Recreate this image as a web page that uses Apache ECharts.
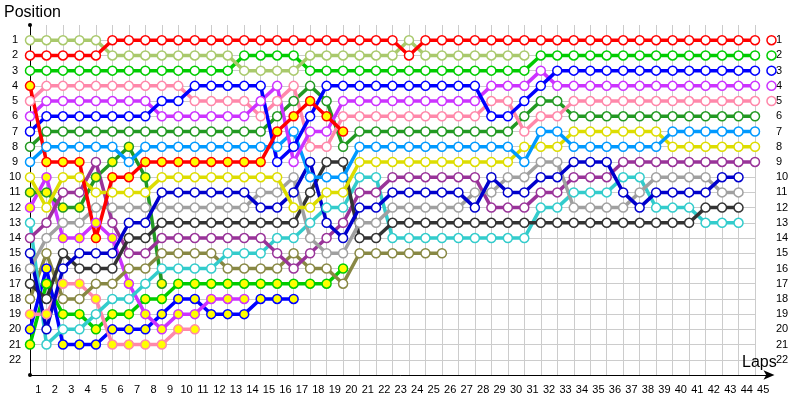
<!DOCTYPE html>
<html><head><meta charset="utf-8">
<script src="https://cdn.jsdelivr.net/npm/echarts@6/dist/echarts.min.js"></script>
<style>html,body{margin:0;padding:0;background:#fff}#c{width:800px;height:400px}</style>
</head><body><div id="c"></div>
<script>
// Lap index 0 = starting grid, 1..45 = laps
const lapLabels = ['1','2','3','4','5','6','7','8','9','10','11','12','13','14','15','16','17','18','19','20','21','22','23','24','25','26','27','28','29','30','31','32','33','34','35','36','37','38','39','40','41','42','43','44','45'];
const positionLabels = ['1','2','3','4','5','6','7','8','9','10','11','12','13','14','15','16','17','18','19','20','21','22'];

const red      = [2,2,2,2,2,1,1,1,1,1, 1,1,1,1,1,1,1,1,1,1, 1,1,1,2,1,1,1,1,1,1, 1,1,1,1,1,1,1,1,1,1, 1,1,1,1,1,1];
const lgreen   = [1,1,1,1,1,2,2,2,2,2, 2,2,2,3,3,3,3,2,2,2, 2,2,2,1,2,2,2,2,2,2, 2,null,null,null,null,null,null,null,null,null, null,null,null,null,null,null];
const green    = [3,3,3,3,3,3,3,3,3,3, 3,3,3,2,2,2,2,3,3,3, 3,3,3,3,3,3,3,3,3,3, 3,2,2,2,2,2,2,2,2,2, 2,2,2,2,2,2];
const blue     = [7,6,6,6,6,6,6,6,5,5, 4,4,4,4,4,9,8,6,4,4, 4,4,4,4,4,4,4,4,6,6, 5,4,3,3,3,3,3,3,3,3, 3,3,3,3,3,3];
const violet   = [6,5,5,5,5,5,5,5,6,6, 6,6,6,6,5,4,9,7,7,5, 5,5,5,5,5,5,5,5,4,4, 4,3,4,4,4,4,4,4,4,4, 4,4,4,4,4,4];
const pink     = [5,4,4,4,4,4,4,4,4,4, 5,5,5,5,6,5,4,8,8,6, 6,6,6,6,6,6,6,6,5,5, 7,6,6,5,5,5,5,5,5,5, 5,5,5,5,5,5];
const dkgreen  = [8,7,7,7,7,7,7,7,7,7, 7,7,7,7,7,6,5,4,5,8, 7,7,7,7,7,7,7,7,7,7, 6,5,5,6,6,6,6,6,6,6, 6,6,6,6,6,null];
const ltblue   = [9,8,8,8,8,8,9,8,8,8, 8,8,8,8,8,8,7,10,10,10, 8,8,8,8,8,8,8,8,8,8, 9,7,7,8,8,8,8,8,8,7, 7,7,7,7,7,null];
const yellow   = [10,12,10,10,11,11,11,11,10,10, 10,10,10,10,10,10,12,12,11,11, 9,9,9,9,9,9,9,9,9,9, 8,8,8,7,7,7,7,7,7,8, 8,8,8,8,8,null];
const navy     = [15,20,16,15,15,15,13,13,11,11, 11,11,11,11,12,12,11,9,13,14, 12,12,11,11,11,11,11,12,10,11, 11,10,10,9,9,9,11,12,11,11, 11,11,10,10,null,null];
const gray     = [16,14,13,13,12,12,12,12,12,12, 12,12,12,12,11,11,10,14,15,15, 13,13,12,12,12,12,12,11,11,10, 10,9,9,12,12,12,12,11,10,10, 10,10,11,11,null,null];
const dkgray   = [17,18,15,16,16,16,14,14,13,13, 13,13,13,13,13,13,13,11,9,9, 14,14,13,13,13,13,13,13,13,13, 13,13,13,13,13,13,13,13,13,13, 13,12,12,12,null,null];
const purple   = [14,13,11,11,9,13,15,15,14,14, 14,14,14,14,14,15,16,15,14,13, 11,11,10,10,10,10,10,10,12,12, 12,11,11,10,10,10,9,9,9,9, 9,9,9,9,9,null];
const olive    = [18,15,18,18,17,17,16,16,15,15, 15,15,16,16,16,16,15,16,16,17, 15,15,15,15,15,15];
const cyan     = [13,21,20,20,19,18,18,17,16,16, 16,16,15,15,15,14,14,13,12,12, 10,10,14,14,14,14,14,14,14,14, 14,12,12,11,11,11,10,10,12,12, 12,13,13,13,null,null];
const redY     = [4,9,9,9,14,10,10,9,9,9, 9,9,9,9,9,7,6,5,6,7];
const dkgreenY = [11,11,12,12,10,9,8,10,17];
const violetY  = [12,10,14,14,13,14,17,19,20,19, 19,18,18,18];
const pinkY    = [19,19,17,17,18,21,21,21,21,20, 20];
const blueY    = [20,16,21,21,21,20,20,20,19,18, 18,19,19,19,18,18,18];
const greenY   = [21,17,19,19,20,19,19,18,18,17, 17,17,17,17,17,17,17,17,17,16];

const drivers = [
  {data: greenY,   line:'#00cc00', fill:'#ffff00'},
  {data: blueY,    line:'#0000ff', fill:'#ffff00'},
  {data: pinkY,    line:'#ff88aa', fill:'#ffff00'},
  {data: violetY,  line:'#cc33ff', fill:'#ffff00'},
  {data: dkgreenY, line:'#229922', fill:'#ffff00'},
  {data: olive,    line:'#888844', fill:'#ffffff'},
  {data: cyan,     line:'#33cccc', fill:'#ffffff'},
  {data: purple,   line:'#993399', fill:'#ffffff'},
  {data: dkgray,   line:'#333333', fill:'#ffffff'},
  {data: gray,     line:'#a0a0a0', fill:'#ffffff'},
  {data: navy,     line:'#0000cc', fill:'#ffffff'},
  {data: yellow,   line:'#dddd00', fill:'#ffffff'},
  {data: ltblue,   line:'#0099ff', fill:'#ffffff'},
  {data: dkgreen,  line:'#229922', fill:'#ffffff'},
  {data: pink,     line:'#ff88aa', fill:'#ffffff'},
  {data: violet,   line:'#cc33ff', fill:'#ffffff'},
  {data: blue,     line:'#0000ff', fill:'#ffffff'},
  {data: green,    line:'#00cc00', fill:'#ffffff'},
  {data: lgreen,   line:'#a9c96c', fill:'#ffffff'},
  {data: redY,     line:'#ff0000', fill:'#ffff00'},
  {data: red,      line:'#ff0000', fill:'#ffffff'}
];

function toPoints(arr){
  const out = [];
  arr.forEach((p, i) => { if (p != null) out.push([i, p]); });
  return out;
}

const FONT = 'Liberation Sans';
const chart = echarts.init(document.getElementById('c'), null, {renderer:'canvas'});
chart.setOption({
  animation: false,
  backgroundColor: '#ffffff',
  title: [
    {text:'Position', left:4, top:5, padding:0, textStyle:{fontSize:16, fontWeight:'normal', color:'#000', fontFamily:FONT}},
    {text:'Laps', left:742, top:355, padding:0, textStyle:{fontSize:16, fontWeight:'normal', color:'#000', fontFamily:FONT}}
  ],
  grid: [
    {left:30, right:45, top:25, bottom:25},
    {left:30, right:28.52, top:25, bottom:25}
  ],
  xAxis: [
    {type:'value', gridIndex:0, min:0, max:44, interval:1,
     axisLine:{show:false}, axisTick:{show:false}, axisLabel:{show:false},
     splitLine:{show:true, lineStyle:{color:'#cccccc', width:1}}},
    {type:'category', gridIndex:1, data:lapLabels, boundaryGap:true, position:'bottom',
     axisLine:{show:true, onZero:false, lineStyle:{color:'#000', width:1}, symbol:['none','arrow'], symbolSize:[7,11], symbolOffset:[0,3]},
     axisTick:{show:false},
     axisLabel:{interval:0, color:'#000', fontSize:11, fontFamily:FONT, margin:9},
     splitLine:{show:false}}
  ],
  yAxis: [
    {type:'value', gridIndex:0, min:0, max:23, interval:1, inverse:true, position:'left',
     axisLine:{show:true, onZero:false, lineStyle:{color:'#000', width:1}, symbol:['circle','circle'], symbolSize:[4,4]},
     axisTick:{show:false},
     axisLabel:{color:'#000', fontSize:11, fontFamily:FONT, align:'center', margin:15,
       formatter: v => (v >= 1 && v <= positionLabels.length) ? positionLabels[v-1] : ''},
     splitLine:{show:true, showMinLine:false, lineStyle:{color:'#cccccc', width:1}}},
    {type:'value', gridIndex:0, min:0, max:23, interval:1, inverse:true, position:'right',
     axisLine:{show:false}, axisTick:{show:false}, splitLine:{show:false},
     axisLabel:{color:'#000', fontSize:11, fontFamily:FONT, align:'left', margin:21,
       formatter: v => (v >= 1 && v <= positionLabels.length) ? positionLabels[v-1] : ''}},
    {type:'value', gridIndex:1, min:0, max:23, show:false}
  ],
  series: drivers.map(d => ({
    type:'line', xAxisIndex:0, yAxisIndex:0, data: toPoints(d.data),
    clip:false, symbol:'circle', symbolSize:9, showAllSymbol:true,
    lineStyle:{color:d.line, width:3.5},
    itemStyle:{color:d.fill, borderColor:d.line, borderWidth:1.5},
    emphasis:{disabled:true}, silent:true
  }))
});
</script>
</body></html>
